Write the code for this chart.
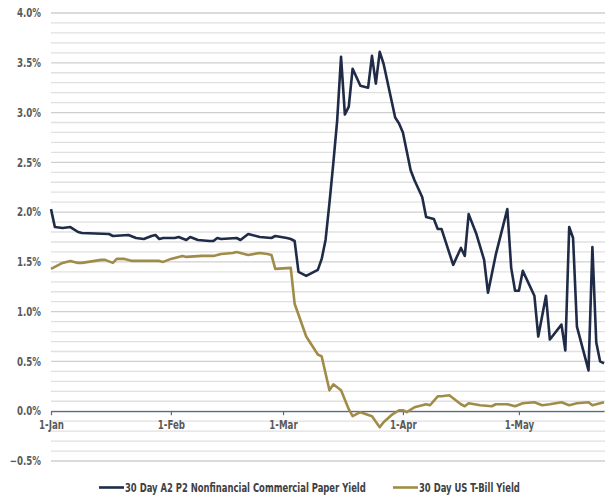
<!DOCTYPE html>
<html>
<head>
<meta charset="utf-8">
<script src="https://cdn.jsdelivr.net/npm/d3@7"></script>
<style>
  body { margin: 0; background: #fff; }
  svg text { font-family: "Liberation Sans Narrow", "DejaVu Sans Condensed", sans-serif; font-weight: bold; }
</style>
</head>
<body>
<div id="chart"></div>
<script>
const cpDates = ['2020-01-01', '2020-01-02', '2020-01-04', '2020-01-06', '2020-01-08', '2020-01-09',
  '2020-01-16', '2020-01-17', '2020-01-21', '2020-01-23', '2020-01-25', '2020-01-27', '2020-01-28',
  '2020-01-29', '2020-01-30', '2020-02-02', '2020-02-03', '2020-02-05', '2020-02-06', '2020-02-08',
  '2020-02-11', '2020-02-12', '2020-02-13', '2020-02-14', '2020-02-18', '2020-02-19', '2020-02-21',
  '2020-02-24', '2020-02-27', '2020-02-28', '2020-03-02', '2020-03-03', '2020-03-04', '2020-03-05',
  '2020-03-07', '2020-03-10', '2020-03-11', '2020-03-12', '2020-03-13', '2020-03-14', '2020-03-15',
  '2020-03-16', '2020-03-17', '2020-03-18', '2020-03-19', '2020-03-21', '2020-03-23', '2020-03-24',
  '2020-03-25', '2020-03-26', '2020-03-27', '2020-03-30', '2020-03-31', '2020-04-01', '2020-04-03',
  '2020-04-04', '2020-04-06', '2020-04-07', '2020-04-09', '2020-04-10', '2020-04-11', '2020-04-14',
  '2020-04-16', '2020-04-17', '2020-04-18', '2020-04-20', '2020-04-22', '2020-04-23', '2020-04-25',
  '2020-04-28', '2020-04-29', '2020-04-30', '2020-05-01', '2020-05-02', '2020-05-05', '2020-05-06',
  '2020-05-08', '2020-05-09', '2020-05-12', '2020-05-13', '2020-05-14', '2020-05-15', '2020-05-16',
  '2020-05-19', '2020-05-20', '2020-05-21', '2020-05-22', '2020-05-23']
const cpYield = [2.03, 1.85, 1.84, 1.85, 1.80, 1.79,
  1.78, 1.76, 1.77, 1.74, 1.73, 1.76, 1.77,
  1.73, 1.74, 1.74, 1.75, 1.72, 1.75, 1.72,
  1.71, 1.71, 1.74, 1.73, 1.74, 1.72, 1.78,
  1.75, 1.74, 1.76, 1.74, 1.73, 1.71, 1.40,
  1.36, 1.42, 1.53, 1.72, 2.09, 2.49, 2.92,
  3.56, 2.98, 3.06, 3.44, 3.27, 3.25, 3.57,
  3.29, 3.61, 3.49, 2.95, 2.89, 2.80, 2.42,
  2.32, 2.15, 1.95, 1.93, 1.83, 1.83, 1.47,
  1.64, 1.56, 1.98, 1.78, 1.52, 1.19, 1.57,
  2.03, 1.44, 1.21, 1.21, 1.41, 1.16, 0.75,
  1.16, 0.72, 0.87, 0.61, 1.85, 1.74, 0.85,
  0.41, 1.65, 0.69, 0.50, 0.48]

const tbDates = ['2020-01-01', '2020-01-04', '2020-01-06', '2020-01-08', '2020-01-09', '2020-01-14',
  '2020-01-15', '2020-01-17', '2020-01-18', '2020-01-20', '2020-01-22', '2020-01-29', '2020-01-30',
  '2020-02-01', '2020-02-04', '2020-02-05', '2020-02-09', '2020-02-12', '2020-02-14', '2020-02-17',
  '2020-02-18', '2020-02-20', '2020-02-21', '2020-02-24', '2020-02-26', '2020-02-27', '2020-02-28',
  '2020-03-03', '2020-03-04', '2020-03-07', '2020-03-10', '2020-03-11', '2020-03-13', '2020-03-14',
  '2020-03-16', '2020-03-18', '2020-03-19', '2020-03-21', '2020-03-24', '2020-03-26', '2020-03-27',
  '2020-03-29', '2020-03-31', '2020-04-01', '2020-04-02', '2020-04-04', '2020-04-07', '2020-04-08',
  '2020-04-10', '2020-04-11', '2020-04-13', '2020-04-16', '2020-04-17', '2020-04-18', '2020-04-21',
  '2020-04-24', '2020-04-25', '2020-04-28', '2020-04-30', '2020-05-02', '2020-05-05', '2020-05-07',
  '2020-05-09', '2020-05-12', '2020-05-14', '2020-05-16', '2020-05-19', '2020-05-20', '2020-05-23']
const tbYield = [1.43, 1.49, 1.51, 1.49, 1.49, 1.52,
  1.52, 1.49, 1.53, 1.53, 1.51, 1.51, 1.50,
  1.53, 1.56, 1.55, 1.56, 1.56, 1.58, 1.59,
  1.60, 1.58, 1.57, 1.59, 1.58, 1.57, 1.43,
  1.44, 1.08, 0.75, 0.57, 0.55, 0.21, 0.27,
  0.21, 0.02, -0.05, -0.01, -0.05, -0.16, -0.11,
  -0.04, 0.01, 0.01, -0.01, 0.04, 0.07, 0.06,
  0.15, 0.15, 0.16, 0.07, 0.05, 0.08, 0.06,
  0.05, 0.07, 0.07, 0.05, 0.08, 0.09, 0.06,
  0.07, 0.09, 0.06, 0.08, 0.09, 0.06, 0.09]

const yTicks = [-0.5, 0, 0.5, 1, 1.5, 2, 2.5, 3, 3.5, 4]
const monthTicks = ['2020-01-01', '2020-02-01', '2020-03-01', '2020-04-01', '2020-05-01']
const seriesNames = ['30 Day A2 P2 Nonfinancial Commercial Paper Yield', '30 Day US T-Bill Yield']
const seriesColors = ['#1f2b47', '#a08c48']

const width = 605
const height = 495
const parse = d3.timeParse('%Y-%m-%d')

// no narrow font here, so squeeze the labels a bit
const squeeze = 'scale(0.84,1)'
const legendSqueeze = 0.815

const svg = d3
  .select('#chart')
  .append('svg')
  .attr('width', width)
  .attr('height', height)

const x = d3
  .scaleTime()
  .domain([parse('2020-01-01'), parse('2020-05-23')])
  .range([51, 604])

const y = d3
  .scaleLinear()
  .domain([-0.5, 4])
  .range([461, 13])

// gridlines every 0.1%, the labelled ones a bit darker
svg
  .append('g')
  .selectAll('line')
  .data(y.ticks(45))
  .enter()
  .append('line')
  .attr('x1', 51)
  .attr('x2', width)
  .attr('y1', d => y(d))
  .attr('y2', d => y(d))
  .attr('stroke', d => (Math.abs(d * 2 - Math.round(d * 2)) < 1e-6 ? '#cfcfcf' : '#e0e0e0'))
  .attr('stroke-width', 1.3)

const yAxis = svg
  .append('g')
  .attr('transform', 'translate(41,0)')
  .call(
    d3
      .axisLeft(y)
      .tickValues(yTicks)
      .tickSize(0)
      .tickPadding(0)
      .tickFormat(d => d3.format('.1%')(d / 100))
  )
yAxis.select('.domain').remove()
yAxis
  .selectAll('text')
  .attr('fill', '#595959')
  .attr('font-size', 11.5)
  .attr('transform', squeeze)

const xAxis = svg
  .append('g')
  .attr('transform', 'translate(0,' + y(0) + ')')
  .call(
    d3
      .axisBottom(x)
      .tickValues(monthTicks.map(parse))
      .tickSize(4)
      .tickSizeOuter(0)
      .tickFormat(d3.timeFormat('%-d-%b'))
  )
xAxis.select('.domain').attr('stroke', '#5b6b86').attr('stroke-width', 1.2)
xAxis.selectAll('.tick line').attr('stroke', '#5b6b86').attr('stroke-width', 1.2)
xAxis
  .selectAll('text')
  .attr('fill', '#595959')
  .attr('font-size', 11.5)
  .attr('dy', '0.95em')
  .attr('transform', squeeze)

const line = d3
  .line()
  .x(d => x(d.date))
  .y(d => y(d.value))

const series = [
  cpDates.map((d, i) => ({ date: parse(d), value: cpYield[i] })),
  tbDates.map((d, i) => ({ date: parse(d), value: tbYield[i] }))
]

svg
  .selectAll('.series')
  .data(series)
  .enter()
  .append('path')
  .attr('class', 'series')
  .attr('d', d => line(d))
  .attr('fill', 'none')
  .attr('stroke', (d, i) => seriesColors[i])
  .attr('stroke-width', 2.6)
  .attr('stroke-linejoin', 'round')

// legend
const legendX = [99, 393]
const legend = svg
  .selectAll('.legend')
  .data(seriesNames)
  .enter()
  .append('g')
  .attr('class', 'legend')
  .attr('transform', (d, i) => 'translate(' + legendX[i] + ',487.5)')

legend
  .append('line')
  .attr('x1', 0)
  .attr('x2', 25)
  .attr('stroke', (d, i) => seriesColors[i])
  .attr('stroke-width', 2.6)

legend
  .append('text')
  .text(d => d)
  .attr('x', 26 / legendSqueeze)
  .attr('dy', '0.35em')
  .attr('font-size', 11.5)
  .attr('fill', '#404040')
  .attr('transform', 'scale(' + legendSqueeze + ',1)')
</script>
</body>
</html>
